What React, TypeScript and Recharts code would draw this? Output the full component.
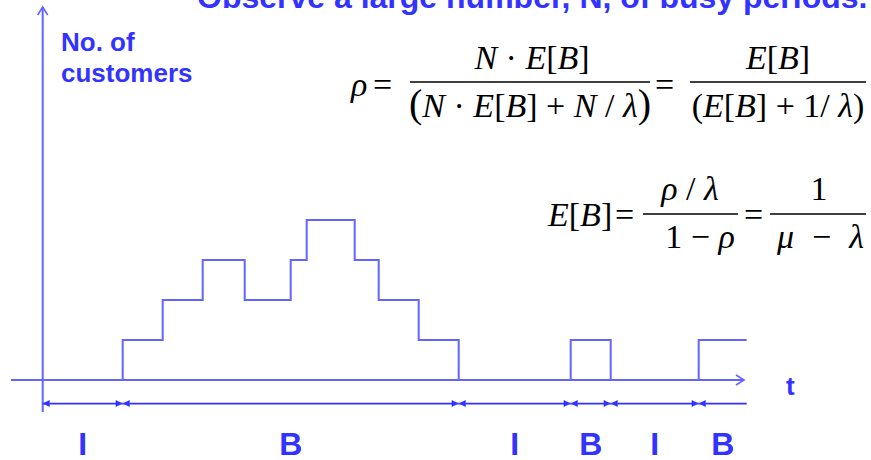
import React from 'react';
import { ComposedChart, Line, XAxis, YAxis, ReferenceLine, ReferenceDot, Customized } from 'recharts';

// number of customers in the system, changes at these instants (stepAfter)
const stepTimes = [0, 4, 6, 8, 10.1, 12.4, 13.2, 15.6, 16.8, 18.8, 20.8, 26.4, 28.4, 32.8, 35.2];
const stepCounts = [0, 1, 2, 3, 2, 3, 4, 3, 2, 1, 0, 1, 0, 1, 1];

// idle (I) and busy (B) periods under the time axis
const periodStarts = [0, 4, 20.8, 26.4, 28.4, 32.8];
const periodEnds = [4, 20.8, 26.4, 28.4, 32.8, 35.2];
const periodKinds = ['I', 'B', 'I', 'B', 'I', 'B'];

const stepData = stepTimes.map((t, i) => ({ t, n: stepCounts[i] }));

const LINE = '#6464ff';
const INK = '#3333ff';
const SANS = 'Liberation Sans, Arial, sans-serif';
const SERIF = 'Liberation Serif, Times New Roman, serif';

// layout in axis units
const X_DOMAIN: [number, number] = [-2.135, 41.415];
const Y_DOMAIN: [number, number] = [-2, 9.5];
const ARROW_N = -0.59;
const LABEL_N = -1.6;

const openArrow = (p: any) => {
  const { x1, y1, x2, y2 } = p;
  const len = Math.hypot(x2 - x1, y2 - y1) || 1;
  const ux = (x2 - x1) / len;
  const uy = (y2 - y1) / len;
  const bx = x2 - ux * 8;
  const by = y2 - uy * 8;
  return (
    <g>
      <line x1={x1} y1={y1} x2={x2} y2={y2} stroke={LINE} strokeWidth={2} />
      <polyline
        points={`${bx - uy * 5},${by + ux * 5} ${x2},${y2} ${bx + uy * 5},${by - ux * 5}`}
        fill="none"
        stroke={LINE}
        strokeWidth={1.6}
      />
    </g>
  );
};

const periodShape = (openEnd: boolean) => (p: any) => {
  const { x1, y1, x2 } = p;
  return (
    <g>
      <line x1={x1} y1={y1} x2={x2} y2={y1} stroke={INK} strokeWidth={1.6} />
      <polygon points={`${x1},${y1} ${x1 + 7},${y1 - 3.5} ${x1 + 7},${y1 + 3.5}`} fill={INK} />
      {!openEnd && <polygon points={`${x2},${y1} ${x2 - 7},${y1 - 3.5} ${x2 - 7},${y1 + 3.5}`} fill={INK} />}
    </g>
  );
};

const It = ({ children }: { children: React.ReactNode }) => <tspan fontStyle="italic">{children}</tspan>;

function Annotations() {
  const f = { fontFamily: SERIF, fontSize: 34, fill: '#000' };
  const bar = (x1: number, x2: number, y: number) => (
    <line x1={x1} x2={x2} y1={y} y2={y} stroke="#000" strokeWidth={1.5} />
  );
  return (
    <g>
      <text x={197} y={8} fontFamily={SANS} fontSize={32} fontWeight={700} fill={INK}>
        Observe a large number, N, of busy periods.
      </text>
      <text x={61} y={51} fontFamily={SANS} fontSize={26} fontWeight={700} fill={INK}>No. of</text>
      <text x={61} y={82} fontFamily={SANS} fontSize={26} fontWeight={700} fill={INK}>customers</text>
      <text x={786} y={395} fontFamily={SANS} fontSize={26} fontWeight={700} fill={INK}>t</text>

      {/* rho = N E[B] / (N E[B] + N/lambda) = E[B] / (E[B] + 1/lambda) */}
      <text x={351} y={96} {...f}><It>ρ</It></text>
      <text x={373} y={96} {...f}>=</text>
      {bar(410, 650, 82)}
      <text x={532} y={69} {...f} textAnchor="middle">
        <It>N</It>{' · '}<It>E</It>[<It>B</It>]
      </text>
      <text x={530} y={117} {...f} textAnchor="middle">
        <tspan fontSize={40}>(</tspan>
        <It>N</It>{' · '}<It>E</It>[<It>B</It>]{' + '}<It>N</It>{' / '}<It>λ</It>
        <tspan fontSize={40}>)</tspan>
      </text>
      <text x={655} y={96} {...f}>=</text>
      {bar(690, 866, 82)}
      <text x={778} y={69} {...f} textAnchor="middle">
        <It>E</It>[<It>B</It>]
      </text>
      <text x={778} y={117} {...f} textAnchor="middle">
        (<It>E</It>[<It>B</It>]{' + '}1/ <It>λ</It>)
      </text>

      {/* E[B] = (rho/lambda) / (1 - rho) = 1 / (mu - lambda) */}
      <text x={548} y={226} {...f}>
        <It>E</It>[<It>B</It>]
      </text>
      <text x={615} y={226} {...f}>=</text>
      {bar(643, 738, 214)}
      <text x={690} y={200} {...f} textAnchor="middle">
        <It>ρ</It>{' / '}<It>λ</It>
      </text>
      <text x={700} y={248} {...f} textAnchor="middle">
        1{' − '}<It>ρ</It>
      </text>
      <text x={744} y={226} {...f}>=</text>
      {bar(770, 866, 214)}
      <text x={819} y={200} {...f} textAnchor="middle">1</text>
      <text x={777} y={248} {...f} textLength={87} lengthAdjust="spacing">
        <It>μ</It>{' − '}<It>λ</It>
      </text>
    </g>
  );
}

export default function App() {
  return (
    <div style={{ position: 'absolute', left: 0, top: 0, width: 871, height: 460, background: '#fff' }}>
      <ComposedChart width={871} height={460} data={stepData} margin={{ top: 0, right: 0, bottom: 0, left: 0 }}>
        <XAxis dataKey="t" type="number" domain={X_DOMAIN} allowDataOverflow hide />
        <YAxis type="number" domain={Y_DOMAIN} allowDataOverflow hide />

        {/* axes drawn as arrows */}
        <ReferenceLine segment={[{ x: -1.585, y: 0 }, { x: 35.065, y: 0 }]} ifOverflow="visible" shape={openArrow} />
        <ReferenceLine segment={[{ x: 0, y: -0.8 }, { x: 0, y: 9.325 }]} ifOverflow="visible" shape={openArrow} />

        <Line
          type="stepAfter"
          dataKey="n"
          stroke={LINE}
          strokeWidth={2}
          dot={false}
          activeDot={false}
          isAnimationActive={false}
        />

        {periodKinds.map((kind, i) => (
          <ReferenceLine
            key={`p${i}`}
            segment={[{ x: periodStarts[i], y: ARROW_N }, { x: periodEnds[i], y: ARROW_N }]}
            ifOverflow="visible"
            shape={periodShape(i === periodKinds.length - 1)}
          />
        ))}
        {periodKinds.map((kind, i) => (
          <ReferenceDot
            key={`l${i}`}
            x={(periodStarts[i] + periodEnds[i]) / 2}
            y={LABEL_N}
            r={0}
            fill="none"
            stroke="none"
            ifOverflow="visible"
            label={{ value: kind, position: 'center', fill: INK, fontSize: 32, fontWeight: 700, fontFamily: SANS }}
          />
        ))}

        <Customized component={Annotations} />
      </ComposedChart>
    </div>
  );
}
